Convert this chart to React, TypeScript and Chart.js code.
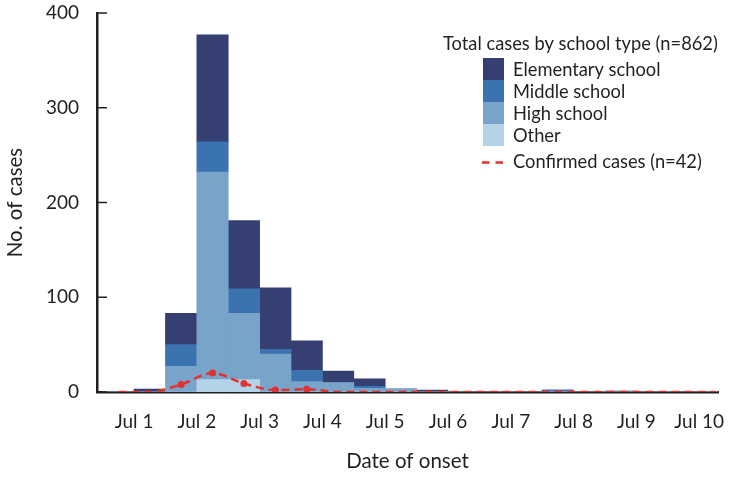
import React, { useEffect, useRef } from "react";
import { Chart, registerables } from "chart.js";

Chart.register(...registerables);

// Half-day onset bins (AM / PM) from Jul 1 to Jul 10
const halfDayBins = [
  "Jul 1 AM", "Jul 1 PM", "Jul 2 AM", "Jul 2 PM", "Jul 3 AM",
  "Jul 3 PM", "Jul 4 AM", "Jul 4 PM", "Jul 5 AM", "Jul 5 PM",
  "Jul 6 AM", "Jul 6 PM", "Jul 7 AM", "Jul 7 PM", "Jul 8 AM",
  "Jul 8 PM", "Jul 9 AM", "Jul 9 PM", "Jul 10 AM", "Jul 10 PM",
];

const dayTicks = ["Jul 1", "Jul 2", "Jul 3", "Jul 4", "Jul 5", "Jul 6", "Jul 7", "Jul 8", "Jul 9", "Jul 10"];

// Cases per bin, by school type
const elementary = [0, 3, 33, 113, 72, 65, 31, 12, 8, 0, 2, 0, 0, 0, 0, 0, 1, 0, 0, 0];
const middle = [0, 0, 23, 32, 26, 5, 12, 0, 2, 0, 0, 0, 0, 0, 2, 0, 0, 0, 0, 0];
const high = [0, 0, 27, 219, 70, 40, 11, 10, 4, 3, 0, 0, 0, 0, 0, 0, 0, 0, 0, 0];
const other = [0, 0, 0, 13, 13, 0, 0, 0, 0, 0, 0, 0, 0, 0, 0, 0, 0, 0, 0, 0];

// Laboratory-confirmed cases per bin
const confirmed = [0, 0, 8, 20, 9, 2, 3, 0, 0, 0, 0, 0, 0, 0, 0, 0, 0, 0, 0, 0];

const yTicks = [0, 100, 200, 300, 400];

const INK = "#231f20";
const FONT = "Lato";
const COLORS = {
  elementary: "#353f72",
  middle: "#3b72b0",
  high: "#78a4c9",
  other: "#b5d3e7",
  confirmed: "#e0322f",
};

const legendTitle = "Total cases by school type (n=862)";
const legendItems = [
  { label: "Elementary school", color: COLORS.elementary },
  { label: "Middle school", color: COLORS.middle },
  { label: "High school", color: COLORS.high },
  { label: "Other", color: COLORS.other },
];
const confirmedLabel = "Confirmed cases (n=42)";

// each bin sits between its half-day boundaries
const toPoints = (vals: number[]) => halfDayBins.map((_, i) => ({ x: i + 0.5, y: vals[i] }));

const inwardTicks = {
  id: "inwardTicks",
  afterDraw(chart: any) {
    const { ctx, scales } = chart;
    const y = scales.y;
    ctx.save();
    ctx.strokeStyle = INK;
    ctx.lineWidth = 1.5;
    for (const v of yTicks) {
      const py = y.getPixelForValue(v);
      ctx.beginPath();
      ctx.moveTo(y.right, py);
      ctx.lineTo(y.right + 10, py);
      ctx.stroke();
    }
    ctx.restore();
  },
};

const schoolLegend = {
  id: "schoolLegend",
  afterDraw(chart: any) {
    const { ctx } = chart;
    ctx.save();
    ctx.font = `18.3px ${FONT}`;
    ctx.fillStyle = INK;
    ctx.textBaseline = "alphabetic";
    ctx.textAlign = "left";
    ctx.fillText(legendTitle, 443, 50);

    const boxX = 483;
    const boxW = 21;
    const boxH = 22;
    let top = 58;
    legendItems.forEach((item) => {
      ctx.fillStyle = item.color;
      ctx.fillRect(boxX, top, boxW, boxH);
      ctx.fillStyle = INK;
      ctx.fillText(item.label, 513, top + boxH / 2 + 6.5);
      top += boxH;
    });

    ctx.strokeStyle = COLORS.confirmed;
    ctx.lineWidth = 2.5;
    ctx.setLineDash([7.5, 6]);
    ctx.beginPath();
    ctx.moveTo(482, 162.5);
    ctx.lineTo(503, 162.5);
    ctx.stroke();
    ctx.setLineDash([]);
    ctx.fillStyle = INK;
    ctx.fillText(confirmedLabel, 513, 168);
    ctx.restore();
  },
};

export default function App() {
  const canvasRef = useRef<HTMLCanvasElement | null>(null);

  useEffect(() => {
    document.body.style.margin = "0";
    const canvas = canvasRef.current;
    if (!canvas) return;

    const tickFont = { family: FONT, size: 19 };
    const titleFont = { family: FONT, size: 20.5 };

    const chart = new Chart(canvas, {
      type: "bar",
      data: {
        datasets: [
          {
            type: "line",
            label: confirmedLabel,
            data: toPoints(confirmed),
            stack: "confirmed",
            order: -1,
            borderColor: COLORS.confirmed,
            backgroundColor: COLORS.confirmed,
            borderWidth: 2.5,
            borderDash: [8, 5],
            cubicInterpolationMode: "monotone",
            fill: false,
            pointRadius: (ctx: any) => (ctx.raw && ctx.raw.y > 0 ? 3.5 : 0),
            pointBackgroundColor: COLORS.confirmed,
            pointBorderWidth: 0,
          } as any,
          { label: "Other", data: toPoints(other), backgroundColor: COLORS.other, stack: "cases" },
          { label: "High school", data: toPoints(high), backgroundColor: COLORS.high, stack: "cases" },
          { label: "Middle school", data: toPoints(middle), backgroundColor: COLORS.middle, stack: "cases" },
          { label: "Elementary school", data: toPoints(elementary), backgroundColor: COLORS.elementary, stack: "cases" },
        ],
      },
      options: {
        animation: false,
        responsive: false,
        devicePixelRatio: 1,
        layout: { padding: { top: 13, right: 11, left: 0, bottom: 0 } },
        datasets: {
          bar: { barPercentage: 1, categoryPercentage: 1, borderWidth: 0 },
        },
        plugins: {
          legend: { display: false },
          tooltip: { enabled: false },
        },
        scales: {
          x: {
            type: "linear",
            min: -0.18,
            max: 19.6,
            offset: false,
            grid: { display: false, drawTicks: false },
            border: { display: true, color: INK, width: 2.5 },
            afterBuildTicks: (scale: any) => {
              scale.ticks = dayTicks.map((_, d) => ({ value: 2 * d + 1 }));
            },
            afterFit: (scale: any) => {
              scale.height = 85;
              scale.paddingLeft = 0;
              scale.paddingRight = 0;
            },
            ticks: {
              autoSkip: false,
              maxRotation: 0,
              padding: 18,
              color: INK,
              font: tickFont,
              callback: (v: any) => dayTicks[(Number(v) - 1) / 2],
            },
            title: {
              display: true,
              text: "Date of onset",
              color: INK,
              font: titleFont,
              padding: { top: 0, bottom: 3 },
            },
          },
          y: {
            min: 0,
            max: 400,
            stacked: true,
            grid: { display: false, drawTicks: false },
            border: { display: true, color: INK, width: 2.5 },
            afterBuildTicks: (scale: any) => {
              scale.ticks = yTicks.map((value) => ({ value }));
            },
            afterFit: (scale: any) => {
              scale.width = 97;
              scale.paddingTop = 0;
              scale.paddingBottom = 0;
            },
            ticks: {
              padding: 18,
              color: INK,
              font: tickFont,
            },
            title: {
              display: true,
              text: "No. of cases",
              color: INK,
              font: titleFont,
              padding: { top: 3, bottom: 0 },
            },
          },
        },
      } as any,
      plugins: [inwardTicks, schoolLegend],
    });

    return () => chart.destroy();
  }, []);

  return (
    <div style={{ width: 729, height: 477, position: "relative" }}>
      <canvas ref={canvasRef} width={729} height={477} style={{ display: "block" }} />
    </div>
  );
}
